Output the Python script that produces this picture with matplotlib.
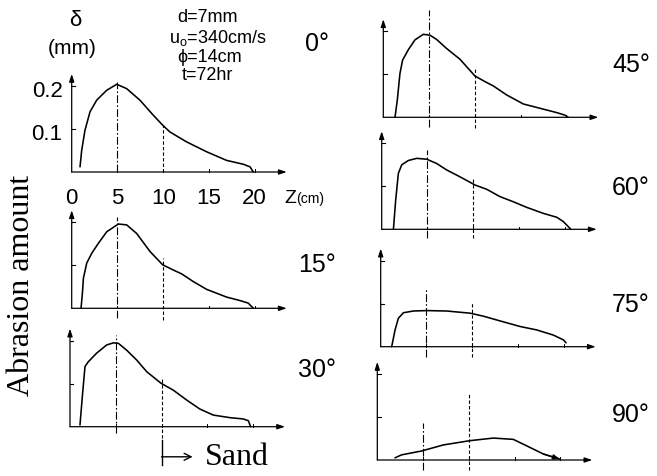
import matplotlib
matplotlib.use("Agg")
import matplotlib.pyplot as plt

W, H = 657, 476
SANS = ["Liberation Sans", "DejaVu Sans"]
SERIF = ["Liberation Serif", "DejaVu Serif"]
plt.rcParams["mathtext.fontset"] = "custom"
plt.rcParams["mathtext.rm"] = "Liberation Sans"

# ---- data: abrasion depth delta (mm) along the wall coordinate z (cm) ----
angles = ["0°", "15°", "30°", "45°", "60°", "75°", "90°"]

z_00 = [0.91, 1.09, 1.45, 2.0, 2.73, 3.82, 4.92, 6.0, 7.46, 8.92, 9.94, 10.74,
        12.56, 14.75, 16.93, 18.76, 19.49, 19.85]
d_00 = [0.012, 0.05, 0.097, 0.14, 0.167, 0.19, 0.204, 0.194, 0.167, 0.132, 0.109,
        0.093, 0.07, 0.047, 0.027, 0.018, 0.012, 0.0]

z_15 = [1.02, 1.17, 1.28, 1.64, 2.19, 2.91, 3.83, 5.1, 6.01, 7.1, 8.56, 9.95,
        11.11, 12.02, 13.3, 14.75, 16.94, 18.4, 19.3, 19.85]
d_15 = [0.0, 0.035, 0.07, 0.105, 0.128, 0.151, 0.178, 0.196, 0.194, 0.174, 0.132,
        0.101, 0.089, 0.08, 0.062, 0.044, 0.026, 0.018, 0.012, 0.0]

z_30 = [1.09, 1.38, 1.64, 2.0, 2.91, 4.0, 4.74, 5.28, 6.19, 7.29, 8.38, 9.95,
        11.29, 12.75, 14.2, 15.66, 17.49, 18.94, 19.49, 19.74]
d_30 = [0.004, 0.078, 0.14, 0.151, 0.171, 0.19, 0.195, 0.194, 0.178, 0.155, 0.128,
        0.101, 0.085, 0.062, 0.041, 0.027, 0.021, 0.018, 0.014, 0.0]

z_45 = [1.28, 1.53, 1.82, 2.11, 2.73, 3.46, 4.37, 5.1, 5.83, 6.92, 8.38, 10.02,
        11.11, 12.02, 13.48, 15.3, 17.12, 18.94, 19.85, 20.2]
d_45 = [0.0, 0.04, 0.102, 0.133, 0.157, 0.18, 0.193, 0.191, 0.181, 0.16, 0.135,
        0.096, 0.083, 0.073, 0.052, 0.031, 0.021, 0.011, 0.005, 0.0]

z_60 = [1.28, 1.53, 1.82, 2.19, 2.91, 3.83, 4.92, 6.01, 7.1, 8.56, 10.2, 11.48,
        12.93, 14.39, 15.85, 17.67, 19.13, 19.85, 20.4, 20.66]
d_60 = [0.0, 0.068, 0.13, 0.15, 0.16, 0.165, 0.163, 0.153, 0.138, 0.122, 0.103,
        0.093, 0.076, 0.064, 0.051, 0.037, 0.028, 0.018, 0.006, 0.0]

z_75 = [1.2, 1.57, 1.93, 2.48, 3.57, 5.03, 7.21, 9.76, 11.22, 13.04, 15.23, 17.05,
        18.87, 19.96, 20.26]
d_75 = [0.0, 0.039, 0.066, 0.079, 0.083, 0.084, 0.083, 0.078, 0.071, 0.06, 0.047,
        0.039, 0.027, 0.016, 0.009]

z_90 = [1.93, 2.66, 4.85, 7.21, 10.13, 12.68, 14.86, 16.32, 18.14, 19.96]
d_90 = [0.005, 0.012, 0.021, 0.035, 0.045, 0.051, 0.048, 0.033, 0.014, 0.002]

curves_z = [z_00, z_15, z_30, z_45, z_60, z_75, z_90]
curves_d = [d_00, d_15, d_30, d_45, d_60, d_75, d_90]

# reference positions z = 5 cm and z = 10 cm (vertical guide lines)
guide_z = [5, 10]
g5_top = [0.209, 0.213, 0.213, 0.25, 0.184, 0.137, 0.086]
g5_bot = [0.0, -0.023, -0.015, -0.023, -0.02, -0.023, -0.023]
g10_top = [0.109, 0.116, 0.116, 0.115, 0.122, 0.105, 0.156]
g10_bot = [0.0, -0.027, -0.026, -0.025, -0.02, -0.023, -0.023]

x_ticks = [0, 5, 10, 15, 20]
y_ticks = [0.1, 0.2]
y_tick_labels = ["0.1", "0.2"]

# ---- layout (pixel origin of each small panel, y measured from top) ----
origins = [(71.7, 172), (71.7, 308.3), (70, 426.7),
           (383.3, 117.3), (381.7, 229.3), (380.7, 346.7), (377.3, 460)]
label_pos = [(305, 44), (298, 265), (298, 370),
             (612, 65), (612, 188), (612, 305), (612, 415)]
PX_X = 9.15     # pixels per cm
PX_Y = 430.0    # pixels per mm
XLIM = (-3, 25)
YLIM = (-0.1, 0.27)

fig = plt.figure(figsize=(W / 100, H / 100), dpi=100)


def fx(px):
    return px / W


def fy(py):
    return 1 - py / H


def make_panel(x0, ybase):
    left = x0 + XLIM[0] * PX_X
    bottom = (H - ybase) + YLIM[0] * PX_Y
    w = (XLIM[1] - XLIM[0]) * PX_X
    h = (YLIM[1] - YLIM[0]) * PX_Y
    ax = fig.add_axes([left / W, bottom / H, w / W, h / H])
    ax.set_xlim(*XLIM)
    ax.set_ylim(*YLIM)
    ax.axis("off")
    ax.patch.set_alpha(0)
    return ax


arrow = dict(arrowstyle="-|>,head_length=0.45,head_width=0.15", lw=0.9,
             color="black", shrinkA=0, shrinkB=0)

axes = []
for i, (x0, yb) in enumerate(origins):
    ax = make_panel(x0, yb)
    axes.append(ax)
    # axes with arrow heads
    ax.annotate("", xy=(23.5, 0), xytext=(0, 0), arrowprops=arrow)
    ax.annotate("", xy=(0, 0.228), xytext=(0, 0), arrowprops=arrow)
    for yt in y_ticks:
        ax.plot([0, 0.35], [yt, yt], color="black", lw=0.8)
    for xt in x_ticks[1:]:
        ax.plot([xt, xt], [0, 0.006], color="black", lw=0.7)
    # guide lines at z = 5 and z = 10
    ax.plot([guide_z[0]] * 2, [g5_bot[i], g5_top[i]], color="black", lw=0.8,
            ls=(0, (7, 2, 1.5, 2)))
    ax.plot([guide_z[1]] * 2, [g10_bot[i], g10_top[i]], color="black", lw=0.8,
            ls=(0, (3, 2)))
    # abrasion profile
    ax.plot(curves_z[i], curves_d[i], color="black", lw=1.15,
            solid_joinstyle="round", solid_capstyle="round")
    lx, ly = label_pos[i]
    fig.text(fx(lx), fy(ly), angles[i], fontsize=18, family=SANS,
             ha="left", va="center")

# the 90 deg profile ends with an arrow head
axes[6].annotate("", xy=(z_90[-1], d_90[-1]), xytext=(z_90[-2], d_90[-2]),
                 arrowprops=dict(arrowstyle="-|>,head_length=0.4,head_width=0.15",
                                 lw=1.0, color="black", shrinkA=0, shrinkB=0))

# scale of the first panel
ax0 = axes[0]
for yt, lab in zip(y_ticks, y_tick_labels):
    ax0.text(-1.0, yt - 0.012, lab, fontsize=16, family=SANS,
             ha="right", va="center")
for xt in x_ticks:
    ax0.text(xt, -0.062, str(xt), fontsize=16, family=SANS,
             ha="center", va="center")
fig.text(fx(284), fy(198), "Z", fontsize=14, family=SANS, ha="left", va="center")
fig.text(fx(296), fy(199), "(cm)", fontsize=10, family=SANS, ha="left", va="center")

fig.text(fx(75), fy(20), "δ", fontsize=16, family=SANS, ha="center", va="center")
fig.text(fx(72), fy(48), "(mm)", fontsize=15, family=SANS, ha="center", va="center")

# experimental conditions
fig.text(fx(208), fy(17), "d=7mm", fontsize=13, family=SANS, ha="center", va="center")
fig.text(fx(218), fy(38), r"u$_\mathrm{o}$=340cm/s", fontsize=13, family=SANS,
         ha="center", va="center")
fig.text(fx(210), fy(58), "ϕ=14cm", fontsize=13, family=SANS, ha="center", va="center")
fig.text(fx(207), fy(76), "t=72hr", fontsize=13, family=SANS, ha="center", va="center")

# sand marker below the 30 deg panel
ax30 = axes[2]
ax30.plot([10, 10], [-0.03, -0.089], color="black", lw=1.0)
ax30.annotate("", xy=(13.4, -0.07), xytext=(10, -0.07),
              arrowprops=dict(arrowstyle="->,head_length=0.5,head_width=0.25",
                              lw=1.0, color="black", shrinkA=0, shrinkB=0))
fig.text(fx(205), fy(465), "Sand", fontsize=23, family=SERIF,
         ha="left", va="baseline")

fig.text(fx(22), fy(285), "Abrasion amount", fontsize=23, family=SERIF,
         rotation=90, ha="center", va="center")

fig.savefig("out.png", dpi=100)
